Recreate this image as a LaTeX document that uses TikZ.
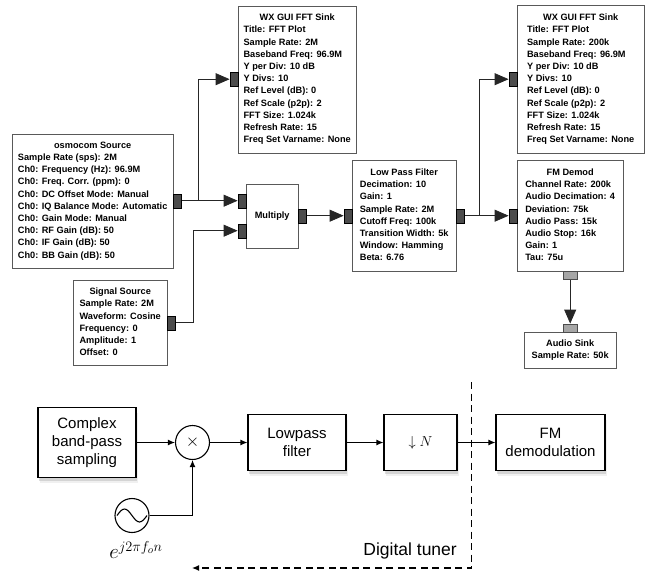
\documentclass[tikz,border=0pt]{standalone}
\usepackage{amsmath,amssymb}
\usepackage{fontspec}
\setmainfont{Liberation Sans}
\usepackage{tikz}
\usetikzlibrary{shapes,positioning,calc,arrows.meta,shadows}

% block text: centred title, then left aligned parameters
\newcommand{\blktext}[2]{\begin{tabular}{@{}l@{}}\multicolumn{1}{@{}c@{}}{#1}\\#2\end{tabular}}

\begin{document}
\begin{tikzpicture}[x=1pt,y=-1pt,
    blk/.style={draw=black!65, fill=white, anchor=north west, inner sep=0pt,
        font=\fontsize{9.2}{12.2}\selectfont\bfseries},
    port/.style={draw=black, fill=black!70, minimum width=8pt, minimum height=14pt, inner sep=0pt},
    mport/.style={draw=black!70, fill=black!35, minimum width=14pt, minimum height=8pt, inner sep=0pt},
    flow/.style={draw=black!85, line width=0.8pt, -{Triangle[length=14pt,width=12pt]}},
    softshadow/.style={drop shadow={shadow xshift=1pt, shadow yshift=-3pt, opacity=0.25},
        drop shadow={shadow xshift=1.5pt, shadow yshift=-5pt, opacity=0.12}},
    stage/.style={draw, line width=1.1pt, fill=white, align=center, inner sep=0pt,
        font=\fontsize{15}{18}\selectfont, softshadow},
    mixer/.style={circle, draw, line width=1.1pt, fill=white, minimum size=34pt, inner sep=0pt,
        font=\fontsize{16}{18}\selectfont},
    sigline/.style={line width=1.1pt, -{Latex[length=7pt,width=6pt]}},
    tuner/.style={line width=1.2pt, dash pattern=on 7pt off 4.5pt, -{Latex[length=7pt,width=6pt]}}]

    \useasboundingbox (0,0) rectangle (646,571);

    % GNU Radio flow graph
    \node[blk, minimum width=161pt, minimum height=134pt] (osm) at (12,133.5) {\blktext{osmocom Source}{
        Sample Rate (sps): 2M\\
        Ch0: Frequency (Hz): 96.9M\\
        Ch0: Freq. Corr. (ppm): 0\\
        Ch0: DC Offset Mode: Manual\\
        Ch0: IQ Balance Mode: Automatic\\
        Ch0: Gain Mode: Manual\\
        Ch0: RF Gain (dB): 50\\
        Ch0: IF Gain (dB): 50\\
        Ch0: BB Gain (dB): 50}};
    \node[blk, minimum width=94pt, minimum height=85pt] (sig) at (73,280) {\blktext{Signal Source}{
        Sample Rate: 2M\\
        Waveform: Cosine\\
        Frequency: 0\\
        Amplitude: 1\\
        Offset: 0}};
    \node[blk, minimum width=118pt, minimum height=147pt] (fft1) at (238,5.5) {\blktext{WX GUI FFT Sink}{
        Title: FFT Plot\\
        Sample Rate: 2M\\
        Baseband Freq: 96.9M\\
        Y per Div: 10 dB\\
        Y Divs: 10\\
        Ref Level (dB): 0\\
        Ref Scale (p2p): 2\\
        FFT Size: 1.024k\\
        Refresh Rate: 15\\
        Freq Set Varname: None}};
    \node[blk, minimum width=52pt, minimum height=64pt] (mul) at (246,183.5) {Multiply};
    \node[blk, minimum width=104pt, minimum height=111pt] (lpf) at (352,160) {\blktext{Low Pass Filter}{
        Decimation: 10\\
        Gain: 1\\
        Sample Rate: 2M\\
        Cutoff Freq: 100k\\
        Transition Width: 5k\\
        Window: Hamming\\
        Beta: 6.76}};
    \node[blk, minimum width=127pt, minimum height=148pt] (fft2) at (517,5) {\blktext{WX GUI FFT Sink}{
        Title: FFT Plot\\
        Sample Rate: 200k\\
        Baseband Freq: 96.9M\\
        Y per Div: 10 dB\\
        Y Divs: 10\\
        Ref Level (dB): 0\\
        Ref Scale (p2p): 2\\
        FFT Size: 1.024k\\
        Refresh Rate: 15\\
        Freq Set Varname: None}};
    \node[blk, minimum width=106pt, minimum height=111pt] (fmd) at (517,160) {\blktext{FM Demod}{
        Channel Rate: 200k\\
        Audio Decimation: 4\\
        Deviation: 75k\\
        Audio Pass: 15k\\
        Audio Stop: 16k\\
        Gain: 1\\
        Tau: 75u}};
    \node[blk, minimum width=92pt, minimum height=36pt] (snk) at (524,332) {\blktext{Audio Sink}{
        Sample Rate: 50k}};

    % Ports
    \node[port, anchor=west] (osmout) at (osm.east) {};
    \node[port, anchor=west] (sigout) at (sig.east) {};
    \node[port, anchor=east] (fft1in) at (fft1.west) {};
    \node[port, anchor=east] (mulin1) at ([yshift=15pt]mul.west) {};
    \node[port, anchor=east] (mulin2) at ([yshift=-15pt]mul.west) {};
    \node[port, anchor=west] (mulout) at (mul.east) {};
    \node[port, anchor=east] (lpfin) at (lpf.west) {};
    \node[port, anchor=west] (lpfout) at (lpf.east) {};
    \node[port, anchor=east] (fft2in) at (fft2.west) {};
    \node[port, anchor=east] (fmdin) at (fmd.west) {};
    \node[mport, anchor=north] (fmdout) at (fmd.south) {};
    \node[mport, anchor=south] (snkin) at (snk.north) {};

    % Connections
    \coordinate (br1) at ($(osmout.east)+(17,0)$);
    \coordinate (br2) at ($(lpfout.east)+(15,0)$);
    \draw[flow] (osmout.east) -- (br1) -- (mulin1.west);
    \draw[flow] (br1) |- (fft1in.west);
    \draw[flow] (sigout.east) -- ++(18,0) |- (mulin2.west);
    \draw[flow] (mulout.east) -- (lpfin.west);
    \draw[flow] (lpfout.east) -- (br2) -- (fmdin.west);
    \draw[flow] (br2) |- (fft2in.west);
    \draw[flow] (fmdout.south) -- (snkin.north);

    % Block diagram of the receiver
    \node[stage, minimum width=98pt, minimum height=70pt] (cbp) at (87,442.5) {Complex\\band-pass\\sampling};
    \node[mixer] (mix) at (192.5,442.5) {$\times$};
    \node[stage, minimum width=98pt, minimum height=56pt] (lpf2) at (297,442.5) {Lowpass\\filter};
    \node[stage, minimum width=73pt, minimum height=56pt] (dec) at (420.5,442.5) {$\downarrow N$};
    \node[stage, minimum width=109pt, minimum height=56pt] (fmd2) at (550.5,442.5) {FM\\demodulation};
    \node[mixer, path picture={
        \draw[line width=1.1pt] ([xshift=-15pt]path picture bounding box.center)
            sin ++(7.5pt,6.5pt) cos ++(7.5pt,-6.5pt) sin ++(7.5pt,-6.5pt) cos ++(7.5pt,6.5pt);}] (osc) at (132,515.5) {};
    \node[font=\fontsize{21}{24}\selectfont] (oscl) at (136,550) {$e^{j2\pi f_o n}$};

    \draw[sigline] (cbp.east) -- (mix.west);
    \draw[sigline] (mix.east) -- (lpf2.west);
    \draw[sigline] (lpf2.east) -- (dec.west);
    \draw[sigline] (dec.east) -- (fmd2.west);
    \draw[sigline] (osc.east) -| (mix.south);

    % Digital tuner border
    \coordinate (tuntop) at (471.5,382);
    \coordinate (tunbot) at (471.5,568);
    \coordinate (tunend) at (192,568);
    \draw[tuner] (tuntop) -- (tunbot) -- (tunend);
    \node[anchor=east, inner sep=0pt, font=\fontsize{17.5}{20}\selectfont] (tunlbl) at (457,551) {Digital tuner};
\end{tikzpicture}
\end{document}
